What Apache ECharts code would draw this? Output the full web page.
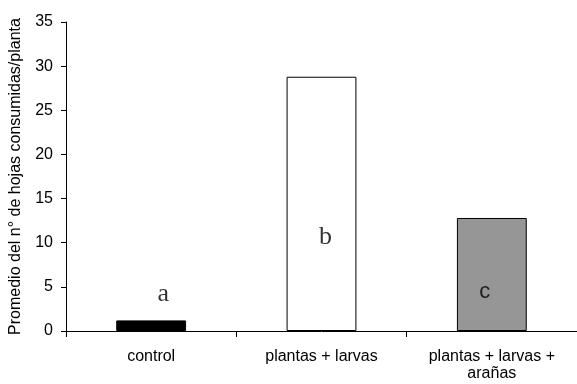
<!DOCTYPE html>
<html>
<head>
<meta charset="utf-8">
<script src="https://cdn.jsdelivr.net/npm/echarts@6/dist/echarts.min.js"></script>
<style>html,body{margin:0;padding:0;background:#fff}#c{width:577px;height:384px}</style>
</head>
<body>
<div id="c"></div>
<script>
var categories = ['control', 'plantas + larvas', 'plantas + larvas +\narañas'];
var values = [1.2, 28.8, 12.8];
var barColors = ['#000000', '#ffffff', '#969696'];
var letters = ['a', 'b', 'c'];
var letterValues = [4.2, 10.6, 4.4];
var yTicks = [0, 5, 10, 15, 20, 25, 30, 35];
var yTitle = 'Promedio del n° de hojas consumidas/planta';

var chart = echarts.init(document.getElementById('c'), null, {renderer: 'canvas'});
var sans = 'Liberation Sans, Arial, sans-serif';
var serif = 'Liberation Serif, Times New Roman, serif';
var letterStyles = [
  {fontFamily: serif, fontSize: 26, offset: [12, 0]},
  {fontFamily: serif, fontSize: 26, offset: [4, 0]},
  {fontFamily: sans, fontSize: 22, offset: [-7, 0]}
];
chart.setOption({
  animation: false,
  grid: {left: 63, right: -4, top: 22, bottom: 53},
  xAxis: {
    type: 'category',
    data: categories,
    axisLine: {lineStyle: {color: '#000', width: 1}},
    axisTick: {show: true, length: 6, lineStyle: {color: '#000'}},
    axisLabel: {color: '#000', fontFamily: sans, fontSize: 16, margin: 17, lineHeight: 17, interval: 0}
  },
  yAxis: {
    type: 'value',
    min: yTicks[0],
    max: yTicks[yTicks.length - 1],
    interval: 5,
    name: yTitle,
    nameLocation: 'middle',
    nameGap: 42,
    nameTextStyle: {color: '#000', fontFamily: sans, fontSize: 16},
    axisLine: {show: true, lineStyle: {color: '#000', width: 1}},
    axisTick: {show: true, length: 5, lineStyle: {color: '#000'}},
    axisLabel: {color: '#000', fontFamily: sans, fontSize: 16, margin: 13},
    splitLine: {show: false}
  },
  series: [
    {
      type: 'bar',
      barWidth: '41%',
      data: values.map(function (v, i) {
        return {value: v, itemStyle: {color: barColors[i], borderColor: '#000', borderWidth: 1}};
      })
    },
    {
      type: 'scatter',
      symbolSize: 0,
      silent: true,
      data: letterValues.map(function (v, i) {
        return {
          value: [i, v],
          label: {
            show: true, position: 'inside', formatter: letters[i], color: '#000',
            fontFamily: letterStyles[i].fontFamily, fontSize: letterStyles[i].fontSize,
            offset: letterStyles[i].offset
          }
        };
      })
    }
  ]
});
</script>
</body>
</html>
